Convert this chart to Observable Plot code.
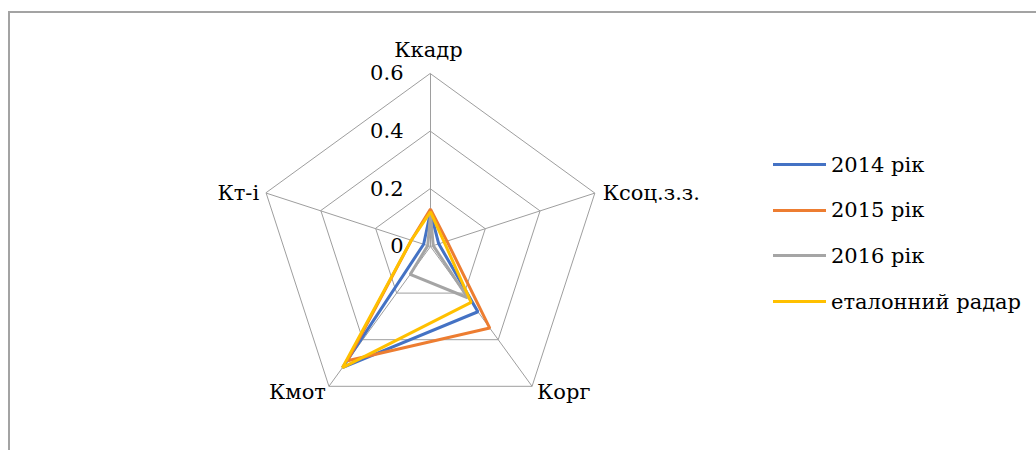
<!DOCTYPE html>
<html>
<head>
<meta charset="utf-8">
<script src="https://cdn.jsdelivr.net/npm/d3@7"></script>
<script src="https://cdn.jsdelivr.net/npm/@observablehq/plot@0.6"></script>
<style>
  html, body { margin: 0; padding: 0; background: #fff; }
  #wrap { position: relative; width: 1036px; height: 450px; overflow: hidden; font-family: "DejaVu Serif"; }
  #frame { position: absolute; left: 8px; top: 11px; width: 1100px; height: 500px; border-left: 2px solid #a3a3a3; border-top: 2px solid #a3a3a3; pointer-events: none; }
  #chart { position: absolute; left: 0; top: 0; }
  #legend { position: absolute; left: 773px; top: 142px; }
  .item { display: flex; align-items: center; height: 45.6px; font-size: 21px; color: #000; }
  .swatch { width: 53px; height: 3px; margin-right: 5px; }
</style>
</head>
<body>
<div id="wrap">
  <div id="frame"></div>
  <div id="chart"></div>
  <div id="legend"></div>
</div>
<script>
// ---- data ----
const axes = ["Ккадр", "Ксоц.з.з.", "Корг", "Кмот", "Кт-і"];
const tickValues = [0, 0.2, 0.4, 0.6];
const tickLabels = ["0", "0.2", "0.4", "0.6"];
const seriesNames = ["2014 рік", "2015 рік", "2016 рік", "еталонний радар"];
const v2014 = [0.12, 0.03, 0.28, 0.52, 0.025];
const v2015 = [0.13, 0.06, 0.35, 0.49, 0.07];
const v2016 = [0.11, 0.01, 0.22, 0.12, 0.01];
const vEtalon = [0.12, 0.05, 0.24, 0.52, 0.07];
const colors = ["#4472C4", "#ED7D31", "#A5A5A5", "#FFC000"];

const allValues = [v2014, v2015, v2016, vEtalon];
const rows = [];
seriesNames.forEach((s, k) => axes.forEach((a, i) => rows.push({series: s, axis: a, i, value: allValues[k][i]})));

const maxR = 0.6;
const ang = i => i * 2 * Math.PI / axes.length;
const px = d => d.value * Math.sin(ang(d.i));
const py = d => d.value * Math.cos(ang(d.i));

const gridRows = [];
tickValues.filter(t => t > 0).forEach(t => axes.forEach((a, i) => gridRows.push({ring: t, i, value: t})));
const spokes = axes.map((a, i) => ({axis: a, i, value: maxR}));

const scale = 288; // px per unit
const cx = 430, cy = 246;

const fontFamily = "DejaVu Serif";
const lab = (idx, opts) => Plot.text([spokes[idx]], {x: px, y: py, text: "axis", fontSize: 21, fill: "#000", fontFamily, ...opts});

const chart = Plot.plot({
  width: 1036,
  height: 450,
  margin: 0,
  style: {background: "transparent", fontFamily},
  x: {domain: [-cx / scale, (1036 - cx) / scale], axis: null},
  y: {domain: [-(450 - cy) / scale, cy / scale], axis: null},
  color: {domain: seriesNames, range: colors},
  marks: [
    Plot.line(gridRows, {x: px, y: py, z: "ring", curve: "linear-closed", stroke: "#9e9e9e", strokeWidth: 1}),
    Plot.link(spokes, {x1: () => 0, y1: () => 0, x2: px, y2: py, stroke: "#9e9e9e", strokeWidth: 1}),
    Plot.line(rows, {x: px, y: py, z: "series", stroke: "series", strokeWidth: 3, curve: "linear-closed", strokeLinejoin: "miter"}),
    Plot.text(tickValues, {x: () => 0, y: d => d, text: (d, j) => tickLabels[j], textAnchor: "end", dx: -27, fontSize: 21, fill: "#000", fontFamily}),
    lab(0, {textAnchor: "middle", dx: -2, dy: -23}),
    lab(1, {textAnchor: "start", dx: 8, dy: 0}),
    lab(2, {textAnchor: "start", dx: 5, dy: 6}),
    lab(3, {textAnchor: "end", dx: -3, dy: 6}),
    lab(4, {textAnchor: "end", dx: -7, dy: 0})
  ]
});
document.getElementById("chart").appendChild(chart);

const legend = d3.select("#legend");
seriesNames.forEach((s, k) => {
  const it = legend.append("div").attr("class", "item");
  it.append("div").attr("class", "swatch").style("background", colors[k]);
  it.append("span").text(s);
});
</script>
</body>
</html>
